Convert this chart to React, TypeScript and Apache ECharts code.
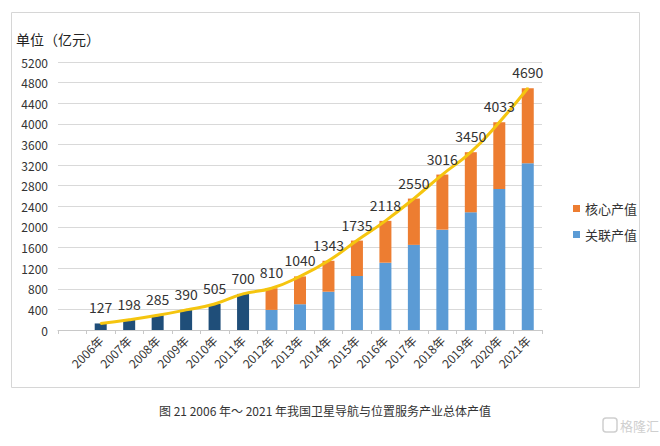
import React, { useEffect, useRef } from "react";
import * as echarts from "echarts";

const categories = ["", "2006年", "2007年", "2008年", "2009年", "2010年", "2011年", "2012年", "2013年", "2014年", "2015年", "2016年", "2017年", "2018年", "2019年", "2020年", "2021年"];
const totalValues = [null, 127, 198, 285, 390, 505, 700, 810, 1040, 1343, 1735, 2118, 2550, 3016, 3450, 4033, 4690];
const earlyTotals = [null, 127, 198, 285, 390, 505, 700, null, null, null, null, null, null, null, null, null, null];
const relatedValues = [null, null, null, null, null, null, null, 390, 500, 743, 1048, 1306, 1652, 1947, 2284, 2738, 3236];
const coreValues = [null, null, null, null, null, null, null, 420, 540, 600, 687, 812, 898, 1069, 1166, 1295, 1454];
const yTicks = { min: 0, max: 5200, interval: 400 };

const FONT = "'Noto Sans CJK SC', 'Noto Sans', sans-serif";

export default function App() {
  const ref = useRef<HTMLDivElement>(null);
  useEffect(() => {
    if (!ref.current) return;
    const chart = echarts.init(ref.current, null, { renderer: "svg" });
    chart.setOption({
      animation: false,
      backgroundColor: "#ffffff",
      textStyle: { fontFamily: FONT },
      grid: { left: 58, right: 118, top: 62, bottom: 116, containLabel: false },
      legend: {
        orient: "vertical",
        left: 568,
        top: 197,
        itemWidth: 7,
        itemHeight: 7,
        itemGap: 13,
        icon: "rect",
        data: ["核心产值", "关联产值"],
        textStyle: { fontSize: 13, color: "#333", fontFamily: FONT },
      },
      xAxis: {
        type: "category",
        data: categories,
        axisLine: { show: true, lineStyle: { color: "#c8c8c8" } },
        axisTick: { show: true, length: 4, lineStyle: { color: "#c8c8c8" } },
        axisLabel: { rotate: 45, fontSize: 12, color: "#333", margin: 8, interval: 0, fontFamily: FONT },
      },
      yAxis: {
        type: "value",
        min: yTicks.min,
        max: yTicks.max,
        interval: yTicks.interval,
        axisLine: { show: false },
        axisTick: { show: false },
        splitLine: { lineStyle: { color: "#d9d9d9" } },
        axisLabel: {
          fontSize: 12,
          color: "#333",
          margin: 10,
          fontFamily: FONT,
          formatter: (v: number) => String(v),
        },
      },
      series: [
        {
          name: "总值",
          type: "bar",
          stack: "a",
          barWidth: 12,
          data: earlyTotals,
          itemStyle: { color: "#1F4E79" },
        },
        {
          name: "关联产值",
          type: "bar",
          stack: "a",
          barWidth: 12,
          data: relatedValues,
          itemStyle: { color: "#5B9BD5" },
        },
        {
          name: "核心产值",
          type: "bar",
          stack: "a",
          barWidth: 12,
          data: coreValues,
          itemStyle: { color: "#ED7D31" },
        },
        {
          name: "总体产值",
          type: "line",
          data: totalValues,
          smooth: true,
          symbol: "circle",
          symbolSize: 2,
          showSymbol: true,
          showAllSymbol: true,
          lineStyle: { color: "#F5C50F", width: 3 },
          itemStyle: { color: "#F5C50F" },
          label: {
            show: true,
            position: "top",
            distance: 8,
            fontSize: 14,
            color: "#333",
            fontFamily: FONT,
          },
          labelLayout: { hideOverlap: false },
          z: 5,
        },
      ],
      graphic: [
        {
          type: "rect",
          shape: { x: 11.5, y: 12.5, width: 628, height: 375 },
          style: { fill: "none", stroke: "#d6d6d6", lineWidth: 1 },
          silent: true,
        },
        {
          type: "text",
          left: 16,
          top: 32,
          style: { text: "单位（亿元）", fontSize: 14, fill: "#222", fontFamily: FONT },
        },
        {
          type: "text",
          x: 325,
          y: 410,
          style: {
            text: "图 21 2006 年～ 2021 年我国卫星导航与位置服务产业总体产值",
            fontSize: 12,
            fill: "#333",
            fontFamily: FONT,
            align: "center",
            verticalAlign: "middle",
          },
        },
        {
          type: "rect",
          shape: { x: 603, y: 418, width: 14, height: 14, r: 3 },
          style: { fill: "none", stroke: "#cfcfcf", lineWidth: 1.5 },
        },
        {
          type: "text",
          x: 620,
          y: 425,
          style: { text: "格隆汇", fontSize: 13, fill: "#cfcfcf", fontFamily: FONT, verticalAlign: "middle" },
        },
      ],
    });
    return () => chart.dispose();
  }, []);
  return <div ref={ref} style={{ position: "fixed", left: 0, top: 0, width: 660, height: 446 }} />;
}
